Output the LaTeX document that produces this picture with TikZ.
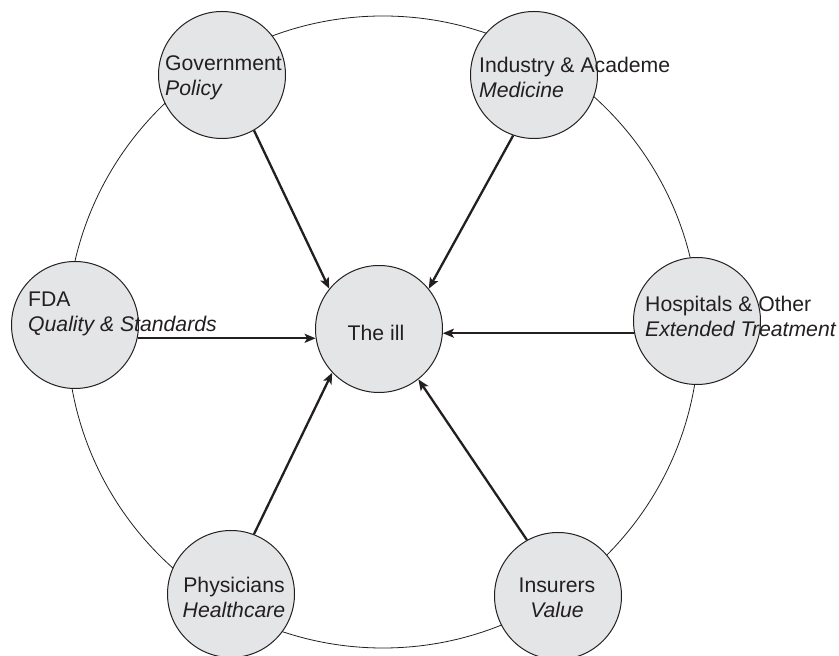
\documentclass[tikz,border=0pt]{standalone}
\usepackage{fontspec}
\setmainfont{Liberation Sans}
\usetikzlibrary{arrows.meta}
\definecolor{discfill}{RGB}{228,229,231}
\definecolor{ink}{RGB}{35,31,32}
\begin{document}
\begin{tikzpicture}[x=1pt,y=1pt,
  disc/.style={circle, draw=ink, line width=1pt, fill=discfill,
               minimum size=127pt, inner sep=0pt},
  ringpath/.style={circle, draw=ink, line width=0.8pt,
               minimum size=632pt, inner sep=0pt},
  txt/.style={font=\fontsize{21.2}{25}\selectfont, text=ink,
               inner sep=0pt, align=left},
  flow/.style={draw=ink, line width=2.3pt,
               -{Stealth[length=11pt,width=9pt,inset=2.5pt]}}
]
\useasboundingbox (0,0) rectangle (839,656);

% outer ring joining the six actors
\node[ringpath] (ring) at (383,324) {};

% discs
\node[disc] (gov)  at (222,581) {};
\node[disc] (ind)  at (534,581) {};
\node[disc] (fda)  at (75,331)  {};
\node[disc] (ill)  at (379,327) {};
\node[disc] (hosp) at (697,335) {};
\node[disc] (phys) at (231,62)  {};
\node[disc] (ins)  at (558,60)  {};

% influences on the ill
\draw[flow] (gov.-60)  -- (ill.141);
\draw[flow] (ind.-109) -- (ill.39);
\draw[flow] (fda.-12)  -- (fda.-12 -| ill.188);
\draw[flow] (hosp.191) -- (hosp.191 -| ill.-4);
\draw[flow] (phys.69)  -- (ill.223);
\draw[flow] (ins.119)  -- (ill.-52);

% labels
\node[txt, anchor=west] (govtext)  at ([shift={(-57,-2.5)}]gov.center)
  {Government\\\textit{Policy}};
\node[txt, anchor=west] (indtext)  at ([shift={(-55,-2)}]ind.center)
  {Industry \& Academe\\\textit{Medicine}};
\node[txt, anchor=west] (fdatext)  at ([shift={(-47,11)}]fda.center)
  {FDA\\\textit{Quality \& Standards}};
\node[txt, anchor=west] (hosptext) at ([shift={(-52,4.5)}]hosp.center)
  {Hospitals \& Other\\\textit{Extended Treatment}};
\node[txt, align=center] (illtext)  at ([shift={(-3,-4)}]ill.center)
  {The ill};
\node[txt, align=center] (phystext) at ([shift={(3,-3)}]phys.center)
  {Physicians\\\textit{Healthcare}};
\node[txt, align=center] (instext)  at ([shift={(-1,-2)}]ins.center)
  {Insurers\\\textit{Value}};
\end{tikzpicture}
\end{document}
